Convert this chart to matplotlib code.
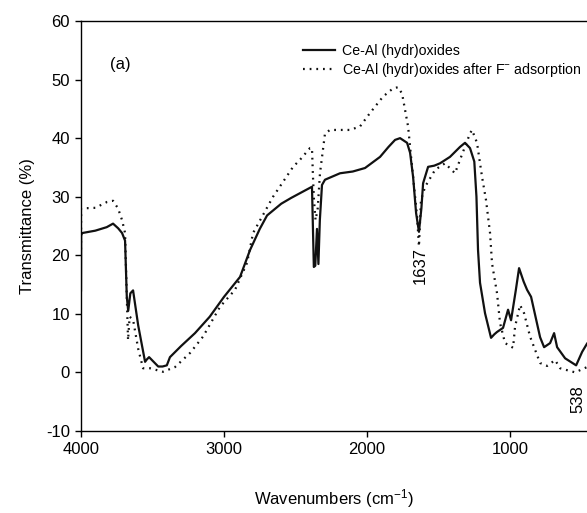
import numpy as np
import matplotlib
matplotlib.use("Agg")
import matplotlib.pyplot as plt

plt.rcParams['font.family'] = ['Liberation Sans', 'DejaVu Sans']
plt.rcParams['mathtext.fontset'] = 'custom'
plt.rcParams['mathtext.rm'] = 'Liberation Sans'
plt.rcParams['mathtext.default'] = 'regular'
plt.rcParams['axes.unicode_minus'] = False

# Ce-Al (hydr)oxides (solid)
wn_a = [4000, 3999, 3990, 3900, 3820, 3776, 3740, 3713, 3692, 3680, 3670, 3655, 3636,
        3600, 3552, 3540, 3524, 3500, 3460, 3430, 3400, 3378, 3300, 3203, 3100, 3000,
        2888, 2818, 2750, 2699, 2600, 2530, 2469, 2385, 2372, 2362, 2350, 2340, 2330,
        2315, 2294, 2189, 2100, 2014, 1909, 1850, 1804, 1769, 1720, 1699, 1678, 1657,
        1637, 1620, 1608, 1573, 1530, 1490, 1420, 1350, 1315, 1280, 1250, 1235, 1224,
        1210, 1175, 1133, 1110, 1091, 1049, 1014, 993, 960, 937, 905, 881, 853, 790,
        762, 720, 692, 671, 615, 538, 496, 462]
t_a = [14.0, 23.5, 23.8, 24.2, 24.8, 25.4, 24.6, 23.8, 22.5, 13.0, 10.5, 13.5, 14.0,
       8.0, 1.8, 2.2, 2.6, 2.0, 1.0, 1.0, 1.2, 2.6, 4.5, 6.7, 9.5, 12.9,
       16.3, 20.9, 24.5, 26.8, 28.8, 29.8, 30.6, 31.7, 18.0, 18.2, 24.5, 18.5, 26.0,
       32.0, 32.9, 34.0, 34.3, 34.9, 36.8, 38.5, 39.7, 40.0, 39.2, 37.5, 33.4, 27.2,
       24.0, 28.0, 32.3, 35.1, 35.3, 35.7, 36.8, 38.5, 39.2, 38.3, 36.0, 30.0, 20.9,
       15.3, 10.1, 5.9, 6.5, 6.9, 7.6, 10.7, 8.9, 14.0, 17.8, 15.5, 14.1, 12.9, 6.0,
       4.3, 5.0, 6.7, 4.3, 2.4, 1.2, 3.5, 4.9]

# Ce-Al (hydr)oxides after F- adsorption (dotted)
wn_b = [4000, 3999, 3900, 3818, 3776, 3741, 3713, 3692, 3678, 3671, 3660, 3636,
        3600, 3566, 3517, 3427, 3343, 3238, 3147, 3028, 2923, 2839, 2797, 2657,
        2517, 2469, 2399, 2385, 2378, 2371, 2360, 2345, 2329, 2294, 2259, 2119,
        2049, 1979, 1888, 1818, 1783, 1755, 1734, 1713, 1692, 1671, 1650, 1637,
        1623, 1594, 1524, 1455, 1385, 1350, 1280, 1266, 1231, 1196, 1168, 1140,
        1126, 1091, 1070, 1035, 979, 965, 930, 902, 860, 790, 741, 685, 650, 545, 462]
t_b = [21.0, 28.0, 28.1, 29.1, 29.3, 28.0, 26.0, 23.8, 11.2, 5.5, 9.5, 9.0,
       4.0, 0.7, 0.7, 0.1, 0.9, 3.3, 6.1, 11.2, 14.1, 18.7, 23.8, 30.0,
       35.1, 36.3, 38.3, 38.3, 33.4, 29.4, 26.0, 28.0, 34.0, 40.8, 41.4, 41.4,
       42.0, 44.3, 47.1, 48.5, 48.7, 47.6, 44.8, 42.0, 36.8, 31.7, 26.6, 21.5,
       29.4, 31.7, 34.6, 35.7, 34.0, 36.3, 40.8, 41.4, 39.2, 33.4, 29.4, 23.8,
       18.6, 13.5, 8.4, 5.0, 4.2, 7.8, 11.5, 10.1, 6.1, 1.6, 1.1, 2.1, 0.7, 0.0, 0.9]

xticks = [4000, 3000, 2000, 1000]
yticks = [-10, 0, 10, 20, 30, 40, 50, 60]

fig = plt.figure(figsize=(5.87, 5.13), dpi=100)
ax = fig.add_axes([0.138, 0.160, 0.862, 0.799])

ax.plot(wn_a, t_a, color='#111111', lw=1.6, label='Ce-Al (hydr)oxides')
ax.plot(wn_b, t_b, color='#111111', lw=1.6, linestyle=(0, (0.8, 2.2)),
        label='Ce-Al (hydr)oxides after F$^{-}$ adsorption')

ax.set_xlim(4000, 462)
ax.set_ylim(-10, 60)
ax.set_xticks(xticks)
ax.set_yticks(yticks)
ax.tick_params(direction='out', length=4, width=1, labelsize=12, pad=4)
ax.spines['right'].set_visible(False)
for s in ['left', 'bottom', 'top']:
    ax.spines[s].set_linewidth(1)

ax.set_xlabel('Wavenumbers (cm$^{-1}$)', fontsize=12, labelpad=22)
ax.set_ylabel('Transmittance (%)', fontsize=12, labelpad=8)

ax.text(3727, 52.5, '(a)', fontsize=12, ha='center', va='center')
ax.text(1629, 18.2, '1637', fontsize=12, rotation=90, ha='center', va='center')
ax.text(524, -4.5, '538', fontsize=12, rotation=90, ha='center', va='center')

ax.legend(loc='upper right', frameon=False, fontsize=10.2, handlelength=2.3,
          handletextpad=0.5, labelspacing=0.25, bbox_to_anchor=(1.006, 0.965),
          borderaxespad=0.2)

fig.savefig('out.png', dpi=100)
